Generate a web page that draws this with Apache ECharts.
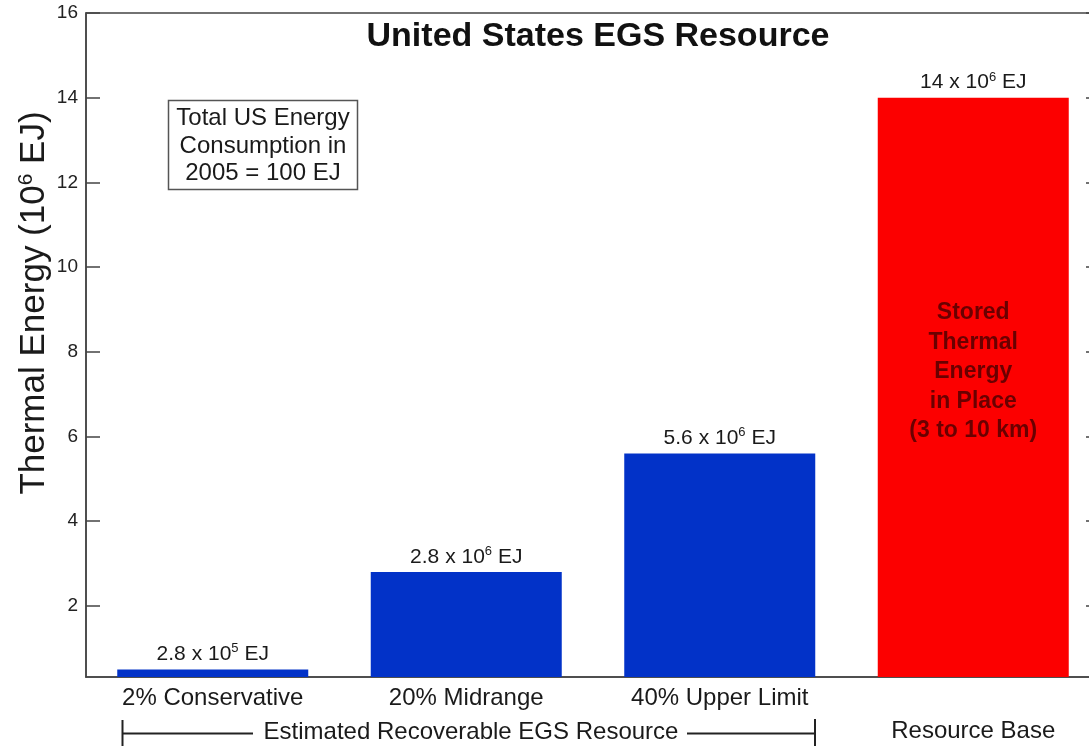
<!DOCTYPE html>
<html>
<head>
<meta charset="utf-8">
<script src="https://cdn.jsdelivr.net/npm/echarts@6/dist/echarts.min.js"></script>
<style>html,body{margin:0;padding:0;background:#fff;overflow:hidden}#c{width:1100px;height:746px}</style>
</head>
<body>
<div id="c"></div>
<script>
var categories = ['2% Conservative', '20% Midrange', '40% Upper Limit', 'Resource Base'];
var values = [0.5, 2.8, 5.6, 14];
var valueLabels = [['2.8 x 10', '5', ' EJ'], ['2.8 x 10', '6', ' EJ'], ['5.6 x 10', '6', ' EJ'], ['14 x 10', '6', ' EJ']];
var barColors = ['#0232c8', '#0232c8', '#0232c8', '#fc0000'];
var yTicks = [2, 4, 6, 8, 10, 12, 14, 16];
var FONT = 'Liberation Sans';
var chart = echarts.init(document.getElementById('c'));
var rich = {
  a: {fontFamily: FONT, fontSize: 21, color: '#1a1a1a'},
  s: {fontFamily: FONT, fontSize: 13, color: '#1a1a1a', padding: [0, 0, 11, 0]}
};
var option = {
  backgroundColor: '#fff',
  animation: false,
  title: {
    text: 'United States EGS Resource',
    left: 593, top: 15, textAlign: 'center',
    textStyle: {fontFamily: FONT, fontSize: 34, fontWeight: 'bold', color: '#111'}
  },
  grid: {left: 86, top: 13, right: 0, height: 664, show: true, borderColor: '#444', borderWidth: 1.5, containLabel: false},
  xAxis: {
    type: 'category', data: categories,
    axisTick: {show: false},
    axisLine: {lineStyle: {color: '#444', width: 1.5}},
    axisLabel: {
      interval: 0, hideOverlap: false,
      margin: 9, fontFamily: FONT, fontSize: 24, color: '#1a1a1a',
      formatter: function (v, i) { return i === 3 ? '{b|' + v + '}' : v; },
      rich: {b: {fontFamily: FONT, fontSize: 24, color: '#1a1a1a', padding: [33, 0, 0, 0]}}
    }
  },
  yAxis: [{
    type: 'value', min: 0.32, max: 16, position: 'left',
    splitLine: {show: false},
    axisLine: {show: true, lineStyle: {color: '#444', width: 1.5}},
    axisTick: {show: true, inside: true, length: 14, customValues: yTicks, lineStyle: {color: '#444', width: 1.5}},
    axisLabel: {customValues: yTicks, margin: 8, fontFamily: FONT, fontSize: 19, color: '#222'}
  }, {
    type: 'value', min: 0.32, max: 16, position: 'right',
    splitLine: {show: false},
    axisLine: {show: true, lineStyle: {color: '#444', width: 1.5}},
    axisTick: {show: true, inside: true, length: 14, customValues: yTicks, lineStyle: {color: '#444', width: 1.5}},
    axisLabel: {show: false}
  }],
  series: [{
    type: 'bar', barWidth: 191,
    data: values.map(function (v, i) {
      return {value: v, itemStyle: {color: barColors[i]}};
    }),
    label: {
      show: true, position: 'top', distance: 3,
      formatter: function (p) {
        var t = valueLabels[p.dataIndex];
        return '{a|' + t[0] + '}{s|' + t[1] + '}{a|' + t[2] + '}';
      },
      rich: rich
    },
    markPoint: {
      symbol: 'rect', symbolSize: 2,
      itemStyle: {color: 'rgba(0,0,0,0)'},
      data: [{coord: [3, 7.53], value: 0}],
      label: {
        show: true, position: 'inside',
        formatter: 'Stored\nThermal\nEnergy\nin Place\n(3 to 10 km)',
        fontFamily: FONT, fontSize: 23, fontWeight: 'bold', color: '#6a0000', lineHeight: 29.5, align: 'center'
      }
    }
  }],
  graphic: [
    {type: 'text', x: 34, y: 303, rotation: Math.PI / 2,
      style: {
        text: '{a|Thermal Energy (10}{s|6}{a| EJ)}', align: 'center', verticalAlign: 'middle',
        rich: {
          a: {fontFamily: FONT, fontSize: 35, fill: '#1a1a1a'},
          s: {fontFamily: FONT, fontSize: 21, fill: '#1a1a1a', padding: [0, 0, 16, 0]}
        }
      }},
    {type: 'rect', shape: {x: 168.5, y: 100.5, width: 189, height: 89}, style: {fill: '#fff', stroke: '#555', lineWidth: 1.5}},
    {type: 'text', x: 263, y: 146,
      style: {text: 'Total US Energy\nConsumption in\n2005 = 100 EJ', align: 'center', verticalAlign: 'middle',
        fontFamily: FONT, fontSize: 24, lineHeight: 27.5, fill: '#1a1a1a'}},
    {type: 'line', shape: {x1: 122.5, y1: 720, x2: 122.5, y2: 746}, style: {stroke: '#222', lineWidth: 2}},
    {type: 'line', shape: {x1: 122, y1: 733.5, x2: 253, y2: 733.5}, style: {stroke: '#222', lineWidth: 2}},
    {type: 'text', x: 471, y: 732,
      style: {text: 'Estimated Recoverable EGS Resource', align: 'center', verticalAlign: 'middle',
        fontFamily: FONT, fontSize: 24, fill: '#1a1a1a'}},
    {type: 'line', shape: {x1: 687, y1: 733.5, x2: 815, y2: 733.5}, style: {stroke: '#222', lineWidth: 2}},
    {type: 'line', shape: {x1: 815, y1: 719, x2: 815, y2: 746}, style: {stroke: '#222', lineWidth: 2}}
  ]
};
chart.setOption(option);
</script>
</body>
</html>
